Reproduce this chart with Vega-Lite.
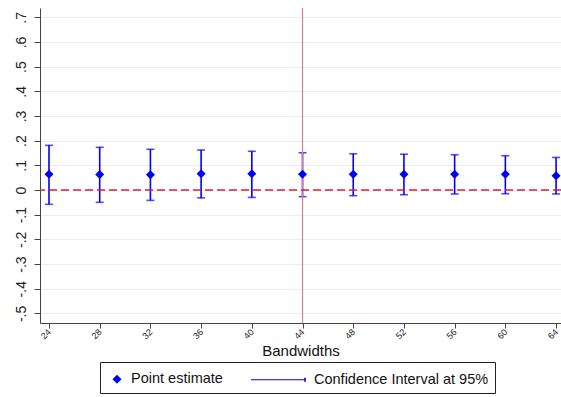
{
  "$schema": "https://vega.github.io/schema/vega-lite/v6.json",
  "autosize": {"type": "none"},
  "padding": {"left": 40, "top": 8, "right": 0, "bottom": 74},
  "width": 521,
  "height": 315,
  "background": "white",
  "config": {
    "view": {"stroke": null},
    "font": "Liberation Sans",
    "axis": {"domainColor": "#444", "tickColor": "#444", "labelColor": "#222", "titleColor": "#111", "labelFont": "Liberation Sans", "titleFont": "Liberation Sans", "titleFontWeight": "normal"}
  },
  "datasets": {
    "est": [
      {"bw": 24, "est": 0.064, "lo": -0.058, "hi": 0.181},
      {"bw": 28, "est": 0.063, "lo": -0.050, "hi": 0.173},
      {"bw": 32, "est": 0.062, "lo": -0.042, "hi": 0.165},
      {"bw": 36, "est": 0.066, "lo": -0.032, "hi": 0.162},
      {"bw": 40, "est": 0.066, "lo": -0.030, "hi": 0.157},
      {"bw": 44, "est": 0.064, "lo": -0.027, "hi": 0.151},
      {"bw": 48, "est": 0.064, "lo": -0.023, "hi": 0.147},
      {"bw": 52, "est": 0.064, "lo": -0.019, "hi": 0.145},
      {"bw": 56, "est": 0.064, "lo": -0.016, "hi": 0.143},
      {"bw": 60, "est": 0.064, "lo": -0.015, "hi": 0.139},
      {"bw": 64, "est": 0.058, "lo": -0.016, "hi": 0.132}
    ],
    "ref": [{"xline": 44, "yline": 0}]
  },
  "layer": [
    {
      "data": {"name": "est"},
      "mark": {"type": "rule", "color": "#0000ff", "strokeWidth": 1.6},
      "encoding": {
        "x": {
          "field": "bw", "type": "quantitative",
          "scale": {"domain": [23.29, 64.39], "nice": false, "zero": false},
          "axis": {"values": [24, 28, 32, 36, 40, 44, 48, 52, 56, 60, 64], "tickCount": 30, "grid": false, "title": "Bandwidths", "titleFontSize": 15, "titlePadding": 3, "labelFontSize": 9, "labelAngle": -45, "labelAlign": "right", "labelBaseline": "middle", "tickSize": 5, "labelPadding": 2, "labelOverlap": false, "labelBound": false}
        },
        "y": {"field": "lo", "type": "quantitative",
          "scale": {"domain": [-0.539, 0.7377], "nice": false, "zero": false},
          "axis": {"values": [-0.5, -0.4, -0.3, -0.2, -0.1, 0, 0.1, 0.2, 0.3, 0.4, 0.5, 0.6, 0.7], "tickCount": 30, "title": null, "grid": true, "gridColor": "#e6eef0", "gridWidth": 1, "labelAngle": 270, "labelAlign": "center", "labelBaseline": "bottom", "labelFontSize": 14, "tickSize": 6, "labelPadding": 6, "labelOverlap": false,
            "labelExpr": "datum.value == 0 ? '0' : (datum.value < 0 ? '-' : '') + replace(format(abs(datum.value), '.1f'), '0.', '.')"}},
        "y2": {"field": "hi"}
      }
    },
    {
      "data": {"name": "est"},
      "mark": {"type": "tick", "color": "#0000ff", "orient": "horizontal", "size": 8, "thickness": 1.6},
      "encoding": {"x": {"field": "bw", "type": "quantitative"}, "y": {"field": "lo", "type": "quantitative"}}
    },
    {
      "data": {"name": "est"},
      "mark": {"type": "tick", "color": "#0000ff", "orient": "horizontal", "size": 8, "thickness": 1.6},
      "encoding": {"x": {"field": "bw", "type": "quantitative"}, "y": {"field": "hi", "type": "quantitative"}}
    },
    {
      "data": {"name": "ref"},
      "mark": {"type": "rule", "color": "#e07b91", "strokeWidth": 1.2},
      "encoding": {"x": {"field": "xline", "type": "quantitative"}}
    },
    {
      "data": {"name": "ref"},
      "mark": {"type": "rule", "color": "#d8203f", "strokeWidth": 1.5, "strokeDash": [8, 4]},
      "encoding": {"y": {"field": "yline", "type": "quantitative"}}
    },
    {
      "data": {"name": "est"},
      "mark": {"type": "point", "filled": true, "color": "#0000ff", "opacity": 1, "size": 400, "strokeWidth": 0},
      "encoding": {
        "x": {"field": "bw", "type": "quantitative"},
        "y": {"field": "est", "type": "quantitative"},
        "shape": {
          "datum": "Point estimate",
          "scale": {"domain": ["Point estimate", "Confidence Interval at 95%"], "range": ["M0,-0.45L0.45,0L0,0.45L-0.45,0Z", "M-4.9,-0.06H0.42V-0.2H0.58V0.2H0.42V0.06H-4.9Z"]},
          "legend": {
            "orient": "none", "legendX": 60, "legendY": 354, "direction": "horizontal", "title": null,
            "strokeColor": "#222", "padding": 6, "columnPadding": 25, "labelOffset": 3, "labelLimit": 400,
            "labelFontSize": 14.5, "labelFont": "Liberation Sans", "labelColor": "#111",
            "symbolSize": 400, "symbolFillColor": "#0000ff", "symbolOpacity": 1
          }
        }
      }
    }
  ]
}
